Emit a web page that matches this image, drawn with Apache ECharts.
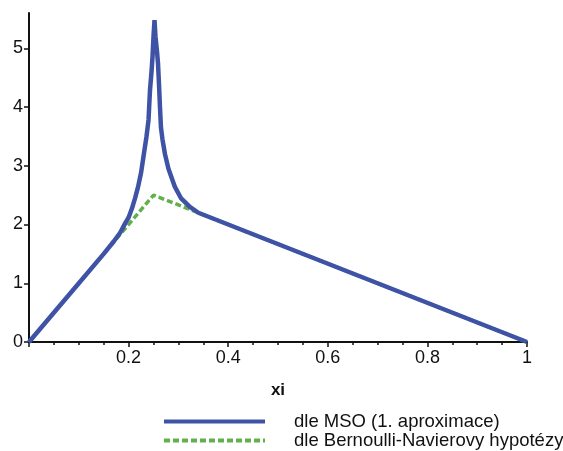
<!DOCTYPE html>
<html>
<head>
<meta charset="utf-8">
<script src="https://cdn.jsdelivr.net/npm/echarts@6/dist/echarts.min.js"></script>
<style>html,body{margin:0;padding:0;background:#fff;}#c{width:563px;height:451px;}</style>
</head>
<body>
<div id="c"></div>
<script>
// Data
var msoX = [0, 0.10, 0.15, 0.17, 0.183, 0.193, 0.200, 0.207, 0.213, 0.219, 0.225, 0.231, 0.236, 0.240, 0.243, 0.246, 0.248, 0.250, 0.252, 0.254, 0.257, 0.259, 0.261, 0.263, 0.265, 0.268, 0.273, 0.280, 0.293, 0.305, 0.323, 0.340, 0.400, 1.0];
var msoY = [0, 1.00, 1.50, 1.71, 1.86, 2.02, 2.12, 2.28, 2.45, 2.64, 2.88, 3.22, 3.50, 3.78, 4.29, 4.60, 4.85, 5.20, 5.48, 5.20, 4.95, 4.75, 4.40, 4.00, 3.65, 3.45, 3.20, 2.95, 2.64, 2.45, 2.30, 2.20, 2.00, 0];
var bnX = [0, 0.25, 1];
var bnY = [0, 2.5, 0];
var xTicks = [0.2, 0.4, 0.6, 0.8, 1];
var yTicks = [0, 1, 2, 3, 4, 5];
var names = ['dle MSO (1. aproximace)', 'dle Bernoulli-Navierovy hypotézy'];

function pairs(xs, ys) { return xs.map(function (x, i) { return [x, ys[i]]; }); }

var chart = echarts.init(document.getElementById('c'), null, { renderer: 'canvas' });
chart.setOption({
  animation: false,
  backgroundColor: '#fff',
  grid: { left: 29, right: 36, top: 13, bottom: 109, containLabel: false },
  xAxis: {
    type: 'value', min: 0, max: 1, interval: 0.2,
    name: 'xi', nameLocation: 'middle', nameGap: 40,
    nameTextStyle: { fontFamily: 'Liberation Sans', fontSize: 17, fontWeight: 'bold', color: '#111' },
    axisLine: { onZero: false, lineStyle: { color: '#111', width: 2 } },
    axisTick: { show: true, inside: false, length: 5, lineStyle: { color: '#111', width: 1.5 } },
    minorTick: { show: true, splitNumber: 4, length: 3, lineStyle: { color: '#111', width: 1.5 } },
    splitLine: { show: false },
    axisLabel: {
      margin: 7, fontFamily: 'Liberation Sans', fontSize: 18, color: '#111',
      showMinLabel: false,
      formatter: function (v) { return xTicks.indexOf(Math.round(v * 10) / 10) >= 0 ? String(Math.round(v * 10) / 10) : ''; }
    }
  },
  yAxis: {
    type: 'value', min: 0, max: 5.6,
    axisLine: { show: true, onZero: false, lineStyle: { color: '#111', width: 2 } },
    axisTick: { show: true, length: 5, customValues: yTicks, lineStyle: { color: '#111', width: 1.5 } },
    minorTick: { show: false },
    splitLine: { show: false },
    axisLabel: {
      margin: 6, fontFamily: 'Liberation Sans', fontSize: 18, color: '#111',
      customValues: yTicks,
      formatter: function (v) { return String(v); }
    }
  },
  legend: {
    orient: 'vertical', left: 162, top: 412, height: 40, padding: 0,
    itemWidth: 101, itemHeight: 8, itemGap: 0,
    itemStyle: { opacity: 0 },
    lineStyle: { width: 4 },
    textStyle: { fontFamily: 'Liberation Sans', fontSize: 18.5, color: '#111', lineHeight: 14, padding: [0, 0, 0, 24] },
    data: names
  },
  series: [
    {
      name: names[1], type: 'line', data: pairs(bnX, bnY), showSymbol: false, symbol: 'none',
      lineStyle: { color: '#62b04c', width: 3.5, type: [6, 3] }, itemStyle: { color: '#62b04c' }, z: 2
    },
    {
      name: names[0], type: 'line', data: pairs(msoX, msoY), showSymbol: false, symbol: 'none',
      lineStyle: { color: '#3f53a6', width: 4.5 }, itemStyle: { color: '#3f53a6' }, z: 3
    }
  ]
});
</script>
</body>
</html>
